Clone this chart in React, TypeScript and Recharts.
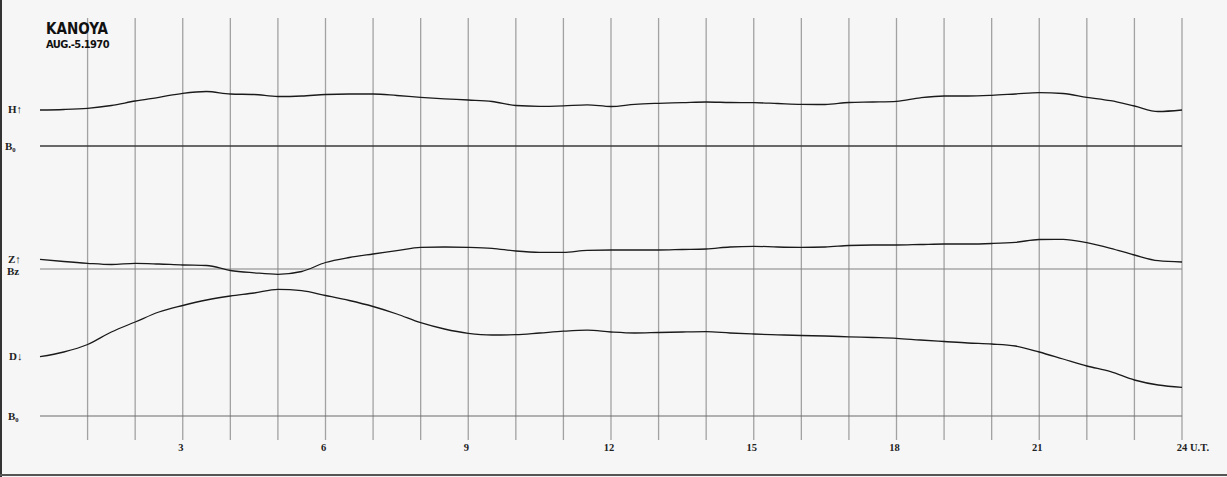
import React from 'react';
import { ComposedChart, Line, XAxis, YAxis, ReferenceLine } from 'recharts';

// hours (UT) at half-hour steps
const hours = [
  0, 0.5, 1, 1.5, 2, 2.5, 3, 3.5, 4, 4.5, 5, 5.5, 6, 6.5, 7, 7.5, 8, 8.5, 9, 9.5,
  10, 10.5, 11, 11.5, 12, 12.5, 13, 13.5, 14, 14.5, 15, 15.5, 16, 16.5, 17, 17.5,
  18, 18.5, 19, 19.5, 20, 20.5, 21, 21.5, 22, 22.5, 23, 23.5, 24,
];

// trace deflections above each baseline (arbitrary record units)
const hValues = [
  36, 36.5, 37.7, 40.5, 45, 48.7, 52.7, 54.5, 52, 51.5, 49.5, 50, 51.5, 52, 52, 50.5,
  48.7, 47.2, 46, 44.5, 40.5, 39.7, 40.2, 41.2, 39.5, 41.7, 42.7, 43.3, 44, 43.5,
  43.3, 42.5, 41.7, 41.5, 43.5, 44, 44.7, 48.2, 50, 50, 50.7, 52, 53.3, 52.5, 48.7,
  45.3, 40, 34.5, 36,
];
const zValues = [
  9.7, 7.5, 5.7, 4.5, 5.7, 5, 4, 3.5, -1.5, -3.8, -5.3, -2.5, 6.5, 11.5, 15, 18.3,
  21.7, 22, 21.7, 20.7, 18, 16.7, 16.7, 18.7, 19, 19, 19, 19.5, 20, 22, 22.7, 22,
  21.7, 22, 23.5, 24, 24, 24.5, 25, 25, 25.5, 26.7, 29.5, 29.7, 26.3, 20.7, 14, 8.3, 7,
];
const dValues = [
  59.3, 64, 71.5, 84, 94, 104, 110.5, 116, 120, 123, 126.7, 125.3, 120.5, 115.5,
  109.5, 102, 93.3, 87, 82.7, 81, 81.3, 83, 84.8, 85.8, 84, 83, 83.5, 84, 84.3, 83,
  82, 81.2, 80.5, 80, 79.2, 78.5, 77.7, 76, 74.5, 73, 72, 70, 64, 57, 50, 44.3, 36,
  31, 28.7,
];

const gridHours = [1, 2, 3, 4, 5, 6, 7, 8, 9, 10, 11, 12, 13, 14, 15, 16, 17, 18, 19, 20, 21, 22, 23, 24];
const tickHours = [3, 6, 9, 12, 15, 18, 21, 24];

const data = hours.map((t, i) => ({ t, h: hValues[i], z: zValues[i], d: dValues[i] }));

const INK = '#1a1a1a';

const Tick = (props: any) => {
  const { x, y, payload } = props;
  const style = { fontFamily: 'Liberation Serif, serif', fontWeight: 700, fontSize: 10.5, fill: '#222' };
  if (payload.value === 24) {
    return (
      <g>
        <text x={x} y={y + 11} textAnchor="middle" style={style}>24</text>
        <text x={x + 8} y={y + 11} textAnchor="start" style={style}>U.T.</text>
      </g>
    );
  }
  return (
    <text x={x - 2} y={y + 11} textAnchor="middle" style={style}>{payload.value}</text>
  );
};

const labelStyle: React.CSSProperties = {
  position: 'absolute',
  fontFamily: 'Liberation Serif, serif',
  fontSize: 11,
  fontWeight: 700,
  color: '#222',
  lineHeight: '12px',
  whiteSpace: 'nowrap',
};

export default function App() {
  return (
    <div
      style={{
        position: 'fixed',
        left: 0,
        top: 0,
        width: 1227,
        height: 477,
        background: '#f6f6f6',
        overflow: 'hidden',
      }}
    >
      <div style={{ position: 'absolute', left: 0, top: 0, width: 2, height: 477, background: '#333' }} />
      <div style={{ position: 'absolute', left: 0, top: 474, width: 1227, height: 2, background: '#555' }} />
      <ComposedChart
        width={1227}
        height={477}
        data={data}
        margin={{ top: 18, right: 45, bottom: 0, left: 40 }}
      >
        <XAxis
          dataKey="t"
          type="number"
          domain={[0, 24]}
          ticks={tickHours}
          axisLine={false}
          tickLine={false}
          tickSize={0}
          tickMargin={0}
          height={37}
          tick={<Tick />}
          interval={0}
        />
        <YAxis yAxisId="h" hide domain={[-294, 128]} type="number" />
        <YAxis yAxisId="z" hide domain={[-171, 251]} type="number" />
        <YAxis yAxisId="d" hide domain={[-24, 398]} type="number" />
        {gridHours.map((g) => (
          <ReferenceLine key={g} x={g} yAxisId="h" stroke="#a2a2a2" strokeWidth={1.3} />
        ))}
        <ReferenceLine y={0} yAxisId="h" stroke="#3a3a3a" strokeWidth={1.3} />
        <ReferenceLine y={0} yAxisId="z" stroke="#808080" strokeWidth={1.1} />
        <ReferenceLine y={0} yAxisId="d" stroke="#6a6a6a" strokeWidth={1.1} />
        <Line yAxisId="h" dataKey="h" type="monotone" stroke={INK} strokeWidth={1.3} dot={false} isAnimationActive={false} />
        <Line yAxisId="z" dataKey="z" type="monotone" stroke={INK} strokeWidth={1.3} dot={false} isAnimationActive={false} />
        <Line yAxisId="d" dataKey="d" type="monotone" stroke={INK} strokeWidth={1.3} dot={false} isAnimationActive={false} />
      </ComposedChart>
      <div
        style={{
          position: 'absolute',
          left: 46,
          top: 22,
          fontFamily: 'DejaVu Sans Condensed, Liberation Sans Narrow, sans-serif',
          fontWeight: 700,
          fontSize: 15,
          lineHeight: '15px',
          color: '#111',
        }}
      >
        KANOYA
      </div>
      <div
        style={{
          position: 'absolute',
          left: 46,
          top: 38,
          fontFamily: 'DejaVu Sans Condensed, Liberation Sans Narrow, sans-serif',
          fontWeight: 700,
          fontSize: 11,
          letterSpacing: -0.6,
          lineHeight: '13px',
          color: '#111',
        }}
      >
        AUG.-5.1970
      </div>
      <div style={{ ...labelStyle, left: 8, top: 103 }}>H↑</div>
      <div style={{ ...labelStyle, left: 5, top: 140 }}>B₀</div>
      <div style={{ ...labelStyle, left: 8, top: 253 }}>Z↑</div>
      <div style={{ ...labelStyle, left: 7, top: 265 }}>Bz</div>
      <div style={{ ...labelStyle, left: 9, top: 350 }}>D↓</div>
      <div style={{ ...labelStyle, left: 8, top: 410 }}>B₀</div>
    </div>
  );
}
